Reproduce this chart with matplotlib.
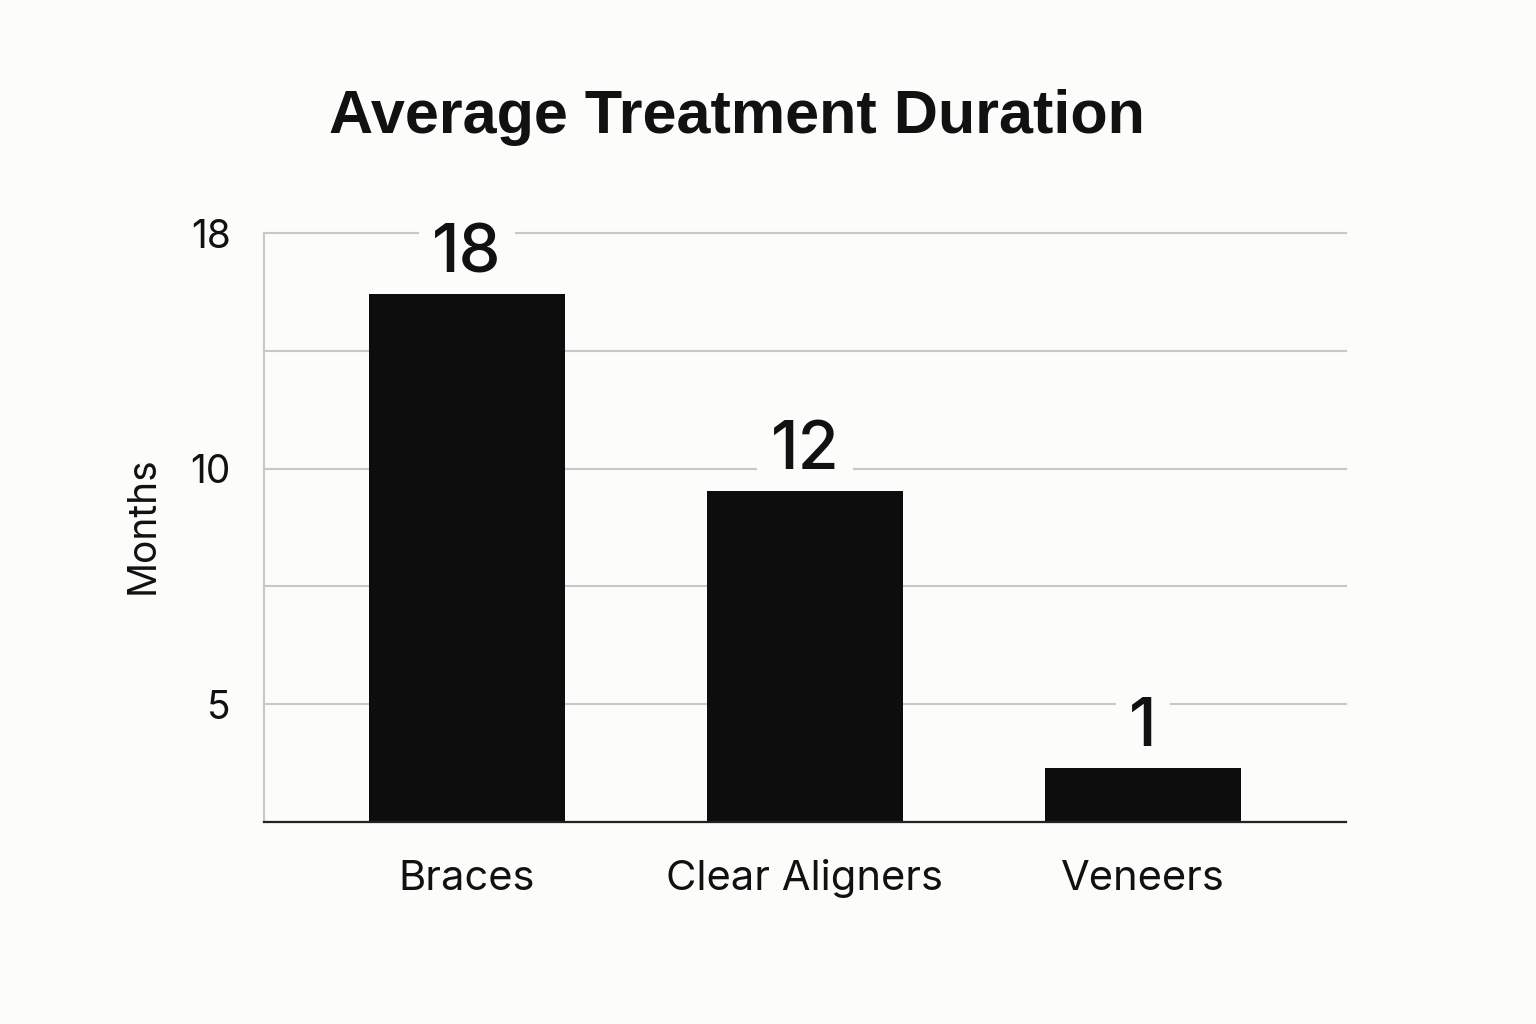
import matplotlib
matplotlib.use("Agg")
import matplotlib.pyplot as plt

# ---- data ----
categories = ["Braces", "Clear Aligners", "Veneers"]
value_labels = [18, 12, 1]                 # numbers printed above bars
bar_heights = [4.48, 2.81, 0.46]           # bar heights as drawn, in gridline steps
grid_steps = [0, 1, 2, 3, 4, 5]
tick_labels = ["", "5", "", "10", "", "18"]
title = "Average Treatment Duration"
ylabel = "Months"

BG = "#fcfcfa"
BAR = "#0d0d0d"
GRID = "#c8c8c8"

plt.rcParams["font.family"] = ["Inter", "DejaVu Sans"]

fig = plt.figure(figsize=(15.36, 10.24), dpi=100, facecolor=BG)
ax = fig.add_axes([264/1536, (1024-822)/1024, (1346-264)/1536, (822-233)/1024])
ax.set_facecolor(BG)

x = list(range(len(categories)))
bars = ax.bar(x, bar_heights, width=0.58, color=BAR, zorder=6)

ax.set_xlim(-0.6, 2.6)
ax.set_ylim(0, 5)
ax.set_yticks(grid_steps)
ax.set_yticklabels(tick_labels)
ax.set_xticks(x)
ax.set_xticklabels(categories)
ax.tick_params(axis="y", length=0, pad=24, labelsize=28, labelcolor="#111111")
ax.tick_params(axis="x", length=0, pad=27, labelsize=30, labelcolor="#111111")

ax.yaxis.grid(True, color=GRID, linewidth=1.5, zorder=0)
for gl in ax.get_ygridlines():
    gl.set_clip_on(False)
ax.set_axisbelow(True)

for s in ["top", "right"]:
    ax.spines[s].set_visible(False)
ax.spines["left"].set_color(GRID)
ax.spines["left"].set_linewidth(1.5)
ax.spines["bottom"].set_color("#222222")
ax.spines["bottom"].set_linewidth(1.6)
ax.spines["bottom"].set_zorder(7)

for xi, h, lab in zip(x, bar_heights, value_labels):
    ax.annotate(str(lab), xy=(xi, h), xytext=(0, 16), textcoords="offset points",
                ha="center", va="baseline", fontsize=48, fontweight="medium",
                color="#111111", zorder=5,
                bbox=dict(boxstyle="square,pad=0.2", facecolor=BG, edgecolor="none"))

fig.text(737/1536, (1024-133)/1024, title, ha="center", va="baseline",
         fontsize=44, fontweight="bold", color="#111111",
         family=["Liberation Sans", "DejaVu Sans"])
fig.text(143/1536, (1024-525)/1024, ylabel, ha="center", va="center",
         rotation=90, fontsize=28, color="#111111")

fig.savefig("out.png", dpi=100, facecolor=BG)
